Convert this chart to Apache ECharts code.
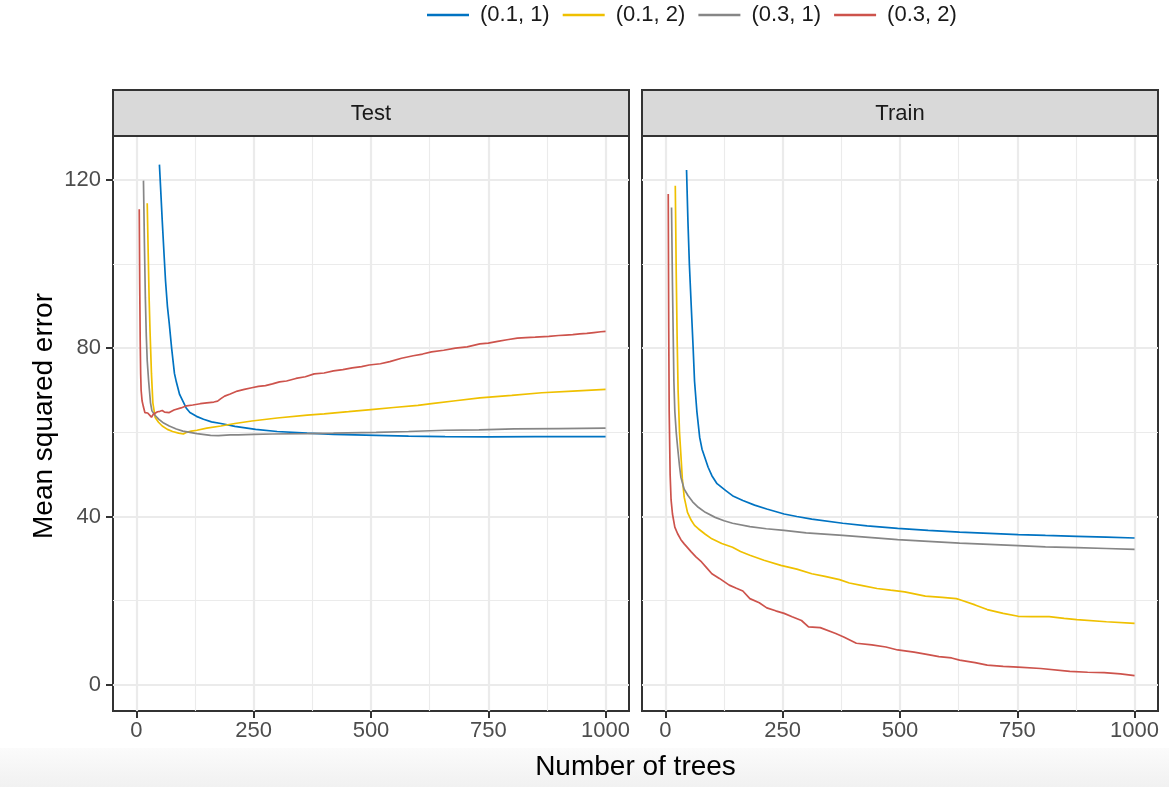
<!DOCTYPE html>
<html><head><meta charset="utf-8">
<script src="https://cdn.jsdelivr.net/npm/echarts@6/dist/echarts.min.js"></script>
<style>html,body{margin:0;padding:0;background:#fff}#c{width:1169px;height:787px}</style>
</head><body><div id="c"></div><script>
// ---------- data ----------
const seriesNames = ['(0.1, 1)', '(0.1, 2)', '(0.3, 1)', '(0.3, 2)'];
const seriesColors = ['#0073C2', '#EFC000', '#868686', '#CD534C'];
const panelNames = ['Test', 'Train'];
const xTicks = [0, 250, 500, 750, 1000];
const xMinor = [125, 375, 625, 875];
const yTicks = [0, 40, 80, 120];
const yMinor = [20, 60, 100];

// Test panel
const testBlueX = [49,52,55,59,62,66,70,75,81,85,92,99,106,114,128,143,160,180,210,254,300,364,420,511,580,658,750,850,1000];
const testBlueY = [123.6,117,110.3,102,96,90,85.8,80,74,72,69,67.4,65.8,64.7,63.8,63.1,62.5,62.1,61.4,60.7,60.2,59.8,59.5,59.3,59.1,59.0,58.9,59.0,59.0];
const testYellowX = [23,25,27,29,32,35,40,47,55,66,77,90,100,107,117,129,150,180,210,246,300,364,400,452,500,548,600,629,680,732,800,864,930,1000];
const testYellowY = [114.4,103,92,84,74,67,63.5,62.4,61.5,60.7,60.2,59.8,59.6,60.0,60.3,60.5,61.0,61.5,62.1,62.7,63.4,64.1,64.4,64.9,65.4,65.9,66.4,66.8,67.5,68.2,68.8,69.4,69.8,70.2];
const testGrayX = [15,17,19,21,23,26,30,33,40,48,58,70,85,99,129,158,175,200,217,250,290,364,420,511,580,658,730,805,900,1000];
const testGrayY = [119.8,105,92,83,77,72.2,67,65.1,64,63.1,62.2,61.5,60.8,60.3,59.7,59.3,59.2,59.4,59.4,59.5,59.6,59.7,59.8,60.0,60.2,60.5,60.6,60.8,60.9,61.0];
const testRedX = [6,7,8,9,10,12,15,18,21,24,28,32,36,40,45,50,55,60,70,80,95,107,120,136,150,165,173,180,188,200,215,230,246,260,275,290,305,320,340,360,379,400,420,440,460,480,496,520,540,565,590,610,629,655,680,705,732,750,770,790,812,830,850,879,900,915,930,945,960,975,990,1000];
const testRedY = [113,95,82,74,70,67.5,66,64.7,65.1,64.6,64.2,63.6,64.3,64.4,64.9,65.0,65.2,64.8,64.7,65.3,65.8,66.3,66.5,66.8,67.0,67.2,67.4,68.0,68.6,69.1,69.8,70.2,70.6,70.9,71.1,71.5,72.0,72.2,72.8,73.2,73.9,74.1,74.6,74.9,75.3,75.6,76.0,76.3,76.8,77.6,78.2,78.6,79.1,79.5,80.0,80.3,81.0,81.2,81.6,82.0,82.4,82.5,82.6,82.8,83.0,83.1,83.2,83.4,83.5,83.7,83.9,84.0];

// Train panel
const trainBlueX = [45,48,51,55,59,62,67,73,78,84,91,99,110,128,145,165,190,216,253,280,312,378,430,495,560,627,690,752,810,877,940,1000];
const trainBlueY = [122.3,110,100,90,80.2,72.2,65,58.8,56,54,51.7,49.7,47.8,46.2,44.8,43.8,42.7,41.8,40.6,40,39.4,38.4,37.8,37.2,36.7,36.3,36,35.7,35.5,35.3,35.1,34.9];
const trainYellowX = [21,23,25,27,30,32,36,40,47,55,62,70,85,99,120,143,160,180,210,246,280,312,340,371,392,420,451,480,510,554,590,620,631,660,686,720,752,780,818,850,877,940,1000];
const trainYellowY = [118.6,98,82,70,60,56.4,49,44.6,41,39.1,37.9,37.1,35.8,34.7,33.6,32.7,31.7,30.8,29.6,28.4,27.5,26.4,25.8,25,24.2,23.6,22.9,22.5,22.1,21.1,20.8,20.5,20.1,19,17.9,17,16.3,16.2,16.2,15.8,15.5,15,14.6];
const trainGrayX = [13,15,17,18,20,23,26,30,33,40,48,58,70,85,106,125,143,180,215,253,300,378,440,495,560,627,690,752,810,877,940,1000];
const trainGrayY = [113.4,95,80,72.2,65,60,56.4,52,49.3,46.5,45,43.5,42.2,41,39.8,39,38.4,37.6,37.1,36.7,36.1,35.5,35,34.5,34.1,33.7,33.4,33.1,32.8,32.6,32.4,32.2];
const trainRedX = [6,7,8,10,12,15,20,26,33,40,48,55,65,77,88,99,115,136,150,165,180,200,216,235,253,270,290,305,330,363,380,407,440,470,495,530,560,583,610,627,660,686,720,752,800,862,900,935,970,1000];
const trainRedY = [116.6,85,65,50,44,40.6,37.5,35.9,34.5,33.5,32.5,31.6,30.4,29.2,27.8,26.4,25.3,23.7,23,22.3,20.5,19.5,18.3,17.6,17,16.2,15.3,13.8,13.6,12.2,11.4,9.9,9.5,9.0,8.3,7.8,7.2,6.7,6.4,5.9,5.3,4.7,4.4,4.2,3.9,3.2,3.0,2.9,2.6,2.2];

const panelData = [
  [[testBlueX, testBlueY], [testYellowX, testYellowY], [testGrayX, testGrayY], [testRedX, testRedY]],
  [[trainBlueX, trainBlueY], [trainYellowX, trainYellowY], [trainGrayX, trainGrayY], [trainRedX, trainRedY]]
];

// ---------- layout ----------
const FONT = '"Liberation Sans", Arial, Helvetica, sans-serif';
const panelLeft = [113, 642];
const panelW = 516, panelTop = 136, panelH = 575, stripH = 46;
const xMin = -49.95, xMax = 1049.95, yMin = -6.2, yMax = 130.4;

const zip = (xs, ys) => xs.map((x, i) => [x, ys[i]]);

const grids = [], xAxes = [], yAxes = [], series = [], graphics = [];
const gridItems = [].concat(
  xMinor.map(v => ({ xAxis: v, lineStyle: { width: 1.1 } })),
  yMinor.map(v => ({ yAxis: v, lineStyle: { width: 1.1 } })),
  xTicks.map(v => ({ xAxis: v, lineStyle: { width: 2.2 } })),
  yTicks.map(v => ({ yAxis: v, lineStyle: { width: 2.2 } }))
);

// light grey fade at bottom of the picture
graphics.push({ type: 'rect', z: -10, shape: { x: 0, y: 748, width: 1169, height: 39 },
  style: { fill: new echarts.graphic.LinearGradient(0, 0, 0, 1, [{ offset: 0, color: '#fbfbfb' }, { offset: 1, color: '#f1f1f1' }]) } });

for (let p = 0; p < 2; p++) {
  grids.push({ left: panelLeft[p], top: panelTop, width: panelW, height: panelH, show: true,
    backgroundColor: '#fff', borderColor: '#333', borderWidth: 2, containLabel: false });
  xAxes.push({ type: 'value', gridIndex: p, min: xMin, max: xMax,
    axisLine: { show: false, onZero: false }, splitLine: { show: false },
    axisTick: { show: true, length: 7, customValues: xTicks, lineStyle: { color: '#333', width: 2 } },
    axisLabel: { show: true, customValues: xTicks, formatter: v => String(v), fontSize: 22, color: '#4d4d4d', margin: 9, fontFamily: FONT } });
  yAxes.push({ type: 'value', gridIndex: p, min: yMin, max: yMax,
    axisLine: { show: false, onZero: false }, splitLine: { show: false },
    axisTick: { show: p === 0, length: 7, customValues: yTicks, lineStyle: { color: '#333', width: 2 } },
    axisLabel: { show: p === 0, customValues: yTicks, formatter: v => String(v), fontSize: 22, color: '#4d4d4d', margin: 12, fontFamily: FONT } });
  series.push({ type: 'line', name: '_grid' + p, xAxisIndex: p, yAxisIndex: p, data: [], z: 1, silent: true,
    markLine: { silent: true, z: 1, animation: false, symbol: ['none', 'none'], label: { show: false },
      lineStyle: { color: '#ebebeb', type: 'solid' }, emphasis: { disabled: true }, data: gridItems } });
  for (let s = 0; s < 4; s++) {
    const d = panelData[p][s];
    series.push({ type: 'line', name: seriesNames[s], xAxisIndex: p, yAxisIndex: p, z: 3,
      data: zip(d[0], d[1]), showSymbol: false, symbol: 'none', animation: false,
      color: seriesColors[s], lineStyle: { color: seriesColors[s], width: 1.7 } });
  }
  graphics.push({ type: 'rect', z: 10, shape: { x: panelLeft[p], y: panelTop - stripH, width: panelW, height: stripH },
    style: { fill: '#d9d9d9', stroke: '#333', lineWidth: 2 } });
  graphics.push({ type: 'text', z: 11, x: panelLeft[p] + panelW / 2, y: panelTop - stripH / 2 + 1,
    style: { text: panelNames[p], font: '22px ' + FONT, fill: '#1a1a1a', textAlign: 'center', textVerticalAlign: 'middle' } });
}

graphics.push({ type: 'text', z: 11, x: 635.5, y: 767,
  style: { text: 'Number of trees', font: '28px ' + FONT, fill: '#000', textAlign: 'center', textVerticalAlign: 'middle' } });
graphics.push({ type: 'text', z: 11, x: 44, y: 416, rotation: Math.PI / 2,
  style: { text: 'Mean squared error', font: '28px ' + FONT, fill: '#000', textAlign: 'center', textVerticalAlign: 'middle' } });

const chart = echarts.init(document.getElementById('c'), null, { renderer: 'canvas' });
chart.setOption({
  backgroundColor: '#ffffff',
  animation: false,
  textStyle: { fontFamily: FONT },
  legend: { data: seriesNames, left: 427, top: 4, padding: 0, icon: 'rect', itemWidth: 42, itemHeight: 2.5,
    itemGap: 13, textStyle: { fontSize: 22, color: '#1a1a1a', fontFamily: FONT, padding: [0, 0, 0, 6] } },
  grid: grids, xAxis: xAxes, yAxis: yAxes, series: series, graphic: graphics
});
</script></body></html>
